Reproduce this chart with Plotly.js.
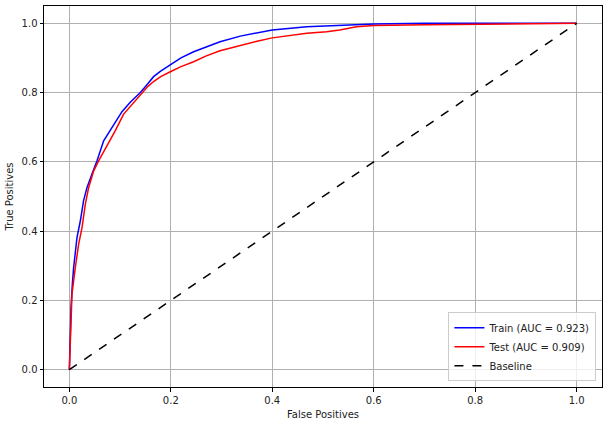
<!DOCTYPE html>
<html>
<head>
<meta charset="utf-8">
<script src="https://cdn.plot.ly/plotly-3.0.1.min.js"></script>
<style>
  body { margin: 0; background: #fff; }
  #roc { width: 609px; height: 425px; }
</style>
</head>
<body>
<div id="roc"></div>
<script>
// ROC points
var fprTrain = [0, 0.001, 0.0033, 0.006, 0.0085, 0.0151, 0.0217, 0.028, 0.0348, 0.0446, 0.0545, 0.0676, 0.084, 0.1037, 0.12, 0.14, 0.155, 0.166, 0.18, 0.2, 0.22, 0.245, 0.27, 0.297, 0.337, 0.37, 0.4, 0.468, 0.533, 0.6, 0.7, 1];
var tprTrain = [0, 0.08, 0.18, 0.25, 0.296, 0.382, 0.43, 0.488, 0.526, 0.565, 0.603, 0.661, 0.70, 0.745, 0.772, 0.800, 0.826, 0.846, 0.862, 0.882, 0.900, 0.918, 0.932, 0.947, 0.963, 0.973, 0.981, 0.990, 0.994, 0.998, 1, 1];

var fprTest = [0, 0.002, 0.0052, 0.0118, 0.0184, 0.025, 0.0315, 0.038, 0.048, 0.0577, 0.074, 0.0906, 0.107, 0.12, 0.14, 0.155, 0.166, 0.18, 0.2, 0.22, 0.245, 0.27, 0.297, 0.337, 0.37, 0.4, 0.468, 0.507, 0.533, 0.566, 0.6, 0.7, 0.8, 0.9, 1];
var tprTest = [0, 0.1, 0.219, 0.296, 0.363, 0.411, 0.478, 0.526, 0.574, 0.603, 0.646, 0.69, 0.738, 0.76, 0.793, 0.818, 0.832, 0.846, 0.861, 0.875, 0.889, 0.906, 0.921, 0.937, 0.948, 0.958, 0.971, 0.976, 0.981, 0.990, 0.994, 0.996, 0.998, 0.999, 1];

var baseX = [0, 1];
var baseY = [0, 1];

var aucTrain = 0.923;
var aucTest = 0.909;

var data = [
  {x: fprTrain, y: tprTrain, mode: 'lines', name: 'Train (AUC = ' + aucTrain + ')',
   line: {color: 'blue', width: 1.5}},
  {x: fprTest, y: tprTest, mode: 'lines', name: 'Test (AUC = ' + aucTest + ')',
   line: {color: 'red', width: 1.5}},
  {x: baseX, y: baseY, mode: 'lines', name: 'Baseline',
   line: {color: 'black', width: 1.5, dash: 'dash'}}
];

var axisStyle = {
  showgrid: true,
  gridcolor: '#b0b0b0',
  gridwidth: 0.8,
  zeroline: false,
  showline: true,
  mirror: true,
  linecolor: 'black',
  linewidth: 1,
  ticks: 'outside',
  ticklen: 3.5,
  tickcolor: 'black',
  tickfont: {size: 10, color: '#222'},
  dtick: 0.2,
  tickformat: '.1f'
};

var layout = {
  width: 609,
  height: 425,
  margin: {l: 44, r: 7, t: 6, b: 38},
  paper_bgcolor: 'white',
  plot_bgcolor: 'white',
  font: {family: 'DejaVu Sans', size: 10, color: '#222'},
  xaxis: Object.assign({}, axisStyle, {
    range: [-0.05, 1.05],
    title: {text: 'False Positives', font: {size: 10}, standoff: 6}
  }),
  yaxis: Object.assign({}, axisStyle, {
    range: [-0.05, 1.05],
    title: {text: 'True Positives', font: {size: 10}, standoff: 6}
  }),
  legend: {
    x: 0.99, y: 0.015, xanchor: 'right', yanchor: 'bottom',
    bgcolor: 'rgba(255,255,255,0.8)',
    bordercolor: '#cccccc',
    borderwidth: 1,
    font: {size: 10},
    itemwidth: 30,
    tracegroupgap: 0
  },
  showlegend: true
};

Plotly.newPlot('roc', data, layout, {displayModeBar: false});
</script>
</body>
</html>
